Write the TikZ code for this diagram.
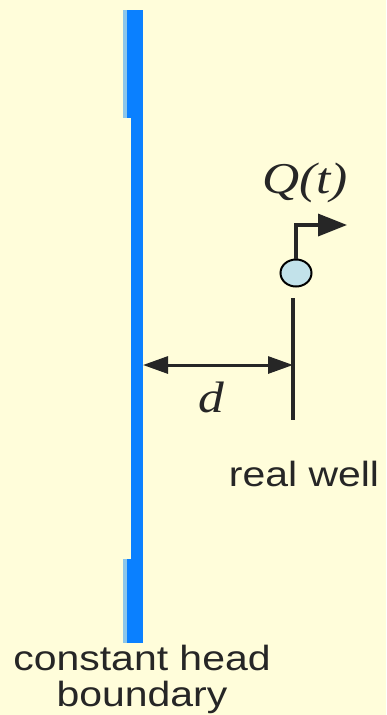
\documentclass[tikz,border=0pt]{standalone}
\usepackage{fontspec}
\setmainfont{Liberation Serif}
\setsansfont{Liberation Sans}
\usepackage{graphicx}
\usetikzlibrary{arrows.meta, positioning, shapes.geometric}
\definecolor{bgyellow}{HTML}{FFFDDA}
\definecolor{barblue}{HTML}{0A80FF}
\definecolor{barlight}{HTML}{8CC6EA}
\definecolor{wellfill}{HTML}{C2E2EA}
\definecolor{txtgray}{HTML}{262626}

\begin{document}
\begin{tikzpicture}[
    x=1pt, y=-1pt,
    label/.style={font=\sffamily\fontsize{35}{36}\selectfont, text=txtgray,
                  inner sep=0pt, align=center},
    symbol/.style={font=\itshape\fontsize{44}{46}\selectfont, text=txtgray,
                   inner sep=0pt},
    wellhead/.style={ellipse, draw=black, fill=wellfill, line width=2pt,
                     minimum width=31pt, minimum height=27pt, inner sep=0pt},
    pipe/.style={line width=3.5pt, black!85, line join=miter},
    dist/.style={{Triangle[length=25pt, width=17pt]}-{Triangle[length=25pt, width=17pt]},
                 line width=3pt, black!85}
  ]
    \fill[bgyellow] (0,0) rectangle (386,715);
    \useasboundingbox (0,0) rectangle (386,715);
    % constant head boundary
    \fill[barblue] (131,10) rectangle (143,643);
    \fill[barblue] (127,10) rectangle (131,118);
    \fill[barblue] (127,559) rectangle (131,643);
    \fill[barlight] (123,10) rectangle (127,118);
    \fill[barlight] (123,559) rectangle (127,643);
    \coordinate (bar) at (143,365);
    \node[label] (boundary) at (142,679) {\scalebox{1.17}[1]{constant head}\\\scalebox{1.17}[1]{boundary}};
    % real well
    \node[wellhead] (well) at (296,273) {};
    \coordinate (casingtop) at (293,298);
    \coordinate (casingbot) at (293,420);
    \coordinate (outlet) at (347,225);
    \draw[pipe] (casingtop) -- (casingbot);
    \draw[pipe, -{Triangle[length=29pt, width=22pt]}] (well.north) |- (outlet);
    \node[symbol] (flow) at (305,183) {\scalebox{1.17}[1]{Q(t)}};
    \node[label] (welllabel) at (304,474) {\scalebox{1.17}[1]{real well}};
    % distance
    \coordinate (wellside) at (293,365);
    \draw[dist] (bar) -- (wellside);
    \node[symbol] (dlabel) at (211,397) {\scalebox{1.17}[1]{d}};
\end{tikzpicture}
\end{document}
